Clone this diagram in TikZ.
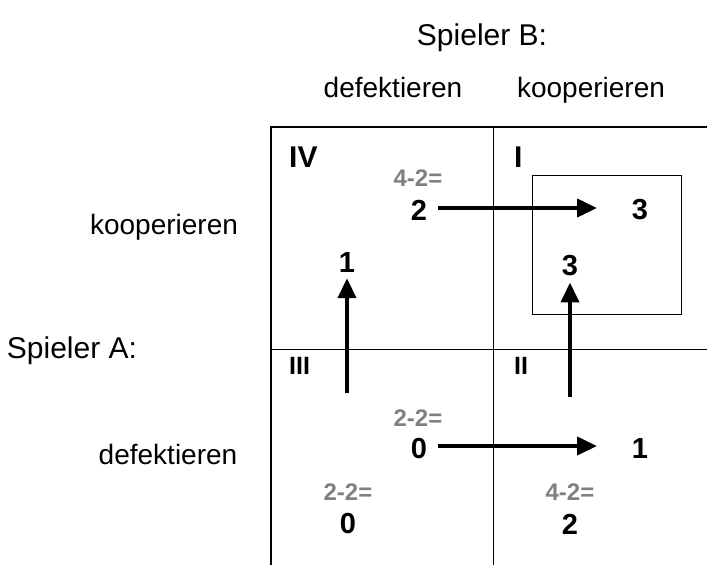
\documentclass[tikz,border=0pt]{standalone}
\usepackage{fontspec}
\setmainfont{Liberation Sans}
\usetikzlibrary{arrows.meta}
\definecolor{grayt}{RGB}{128,128,128}
\begin{document}
\begin{tikzpicture}[x=1pt,y=-1pt,
  lbl/.style={font=\fontsize{28}{32}\selectfont, inner sep=0pt, anchor=base},
  big/.style={font=\fontsize{30}{34}\selectfont, inner sep=0pt, anchor=base},
  num/.style={font=\fontsize{29}{33}\selectfont\bfseries, inner sep=0pt},
  calc/.style={font=\fontsize{24}{28}\selectfont\bfseries, text=grayt, inner sep=0pt},
  roma/.style={font=\fontsize{30}{34}\selectfont\bfseries, inner sep=0pt, anchor=west},
  romb/.style={font=\fontsize{25}{29}\selectfont\bfseries, inner sep=0pt, anchor=west},
  arr/.style={line width=4pt, -{Triangle[length=20pt,width=18pt]}},
  thick2/.style={line width=2pt},
  thin1/.style={line width=1pt}]
\useasboundingbox (0,0) rectangle (707,565);
% grid
\draw[thick2] (271,565) -- (271,127) -- (707,127);
\draw[thin1] (271,349) -- (707,349);
\draw[thin1] (493,127) -- (493,565);
\draw[thin1] (532,175) rectangle (681,314);
% labels
\node[big] (sb) at (482,45) {Spieler B:};
\node[lbl] (bd) at (393,97) {defektieren};
\node[lbl] (bk) at (591,97) {kooperieren};
\node[lbl] (ak) at (164,234) {kooperieren};
\node[big] (sa) at (72,358) {Spieler A:};
\node[lbl] (ad) at (168,464) {defektieren};
% quadrant names
\node[roma] (q4) at (289,157) {IV};
\node[roma] (q1) at (514,157) {I};
\node[romb] (q3) at (289,366) {III};
\node[romb] (q2) at (514,366) {II};
% quadrant IV
\node[calc] (c4) at (418,178) {4-2=};
\node[num] (n4b) at (419,210) {2};
\node[num] (n4a) at (347,263) {1};
% quadrant I
\node[num] (n1b) at (640,210) {3};
\node[num] (n1a) at (570,266) {3};
% quadrant III
\node[calc] (c3b) at (418,418) {2-2=};
\node[num] (n3b) at (419,449) {0};
\node[calc] (c3a) at (348,492) {2-2=};
\node[num] (n3a) at (348,524) {0};
% quadrant II
\node[num] (n2b) at (640,449) {1};
\node[calc] (c2a) at (570,492) {4-2=};
\node[num] (n2a) at (570,524) {2};
% arrows
\coordinate (a1) at (438,208);
\coordinate (t1) at (597,208);
\coordinate (a2) at (438,446);
\coordinate (t2) at (597,446);
\coordinate (s3) at (347,393);
\coordinate (s4) at (570,397);
\draw[arr] (a1) -- (t1);
\draw[arr] (a2) -- (t2);
\draw[arr] (s3) -- ([yshift=-5pt]n4a.south);
\draw[arr] (s4) -- ([yshift=-6pt]n1a.south);
\end{tikzpicture}
\end{document}
